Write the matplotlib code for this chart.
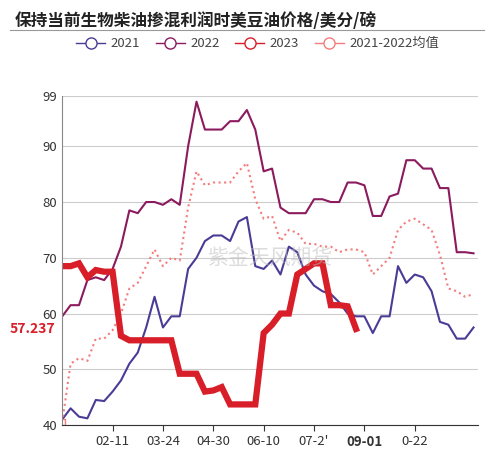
import matplotlib
matplotlib.use("Agg")
import matplotlib.pyplot as plt
from matplotlib.lines import Line2D

plt.rcParams['font.family'] = ['Noto Sans CJK SC', 'DejaVu Sans']

y2021 = [41,43,41.5,41.2,44.5,44.3,46,48,51,53,57.5,63,57.5,59.5,59.5,68,70,73,74,74,73,76.5,77.3,68.5,68,69.5,67,72,71,67,65,64,63.5,62,60,59.5,59.5,56.5,59.5,59.5,68.5,65.5,67,66.5,64,58.5,58,55.5,55.5,57.5]
y2022 = [59.5,61.5,61.5,66,66.5,66,68,72,78.5,78,80,80,79.5,80.5,79.5,90,98,93,93,93,94.5,94.5,96.5,93,85.5,86,79,78,78,78,80.5,80.5,80,80,83.5,83.5,83,77.5,77.5,81,81.5,87.5,87.5,86,86,82.5,82.5,71,71,70.8]
yavg = [40.5,51,52,51.5,55.5,55.5,57,60,64.5,65.5,68.5,71.5,68.5,70,69.5,79,85.5,83,83.5,83.5,83.5,85.5,87,80.5,77,77.5,73,75,74.5,72.5,72.5,72,72,71,71.5,71.5,71,67,68.5,70,75,76.5,77,76,75,70.5,64.5,64,63,63.5]
y2023 = [68.5,68.5,69,66.5,67.8,67.5,67.5,56,55.2,55.2,55.2,55.2,55.2,55.2,49.2,49.2,49.2,46,46.2,46.8,43.7,43.7,43.7,43.7,56.5,58,60,60,67,68,69,69,61.5,61.5,61.3,57.237]
tick_pos = [6,12,18,24,30,36,42]
tick_labels = ['02-11','03-24','04-30','06-10','07-2\'','09-01','0-22']
yticks = [40,50,60,70,80,90,99]

fig = plt.figure(figsize=(4.86,4.62), dpi=100)
ax = fig.add_axes([0.128, 0.08, 0.855, 0.712])
fig.text(0.03, 0.975, '保持当前生物柴油掺混利润时美豆油价格/美分/磅', fontsize=12, fontweight='bold', va='top', color='#222')
fig.add_artist(Line2D([0.02,0.995],[0.935,0.935], color='#999', lw=0.8))

c21, c22, c23, cav = '#4a3c96', '#8b1a5e', '#d81e28', '#f47c7c'
x = lambda s: list(range(len(s)))
ax.plot(x(y2021), y2021, color=c21, lw=1.5)
ax.plot(x(y2022), y2022, color=c22, lw=1.5)
ax.plot(x(yavg), yavg, color=cav, lw=1.5, ls=':')
ax.plot(x(y2023), y2023, color=c23, lw=4.5, solid_joinstyle='miter')
ax.plot([0],[yavg[0]], 's', mfc='white', mec=cav, ms=4)

ax.set_xlim(0, 49.5)
ax.set_ylim(40, 99)
ax.set_yticks(yticks)
ax.set_xticks(tick_pos)
ax.set_xticklabels(tick_labels)
for lab in ax.get_xticklabels():
    if lab.get_text() == '09-01':
        lab.set_color(c23); lab.set_fontweight('bold'); lab.set_fontsize(10.5)
ax.tick_params(axis='both', labelsize=9.5, colors='#333', length=4)
ax.tick_params(axis='y', length=0)
ax.grid(axis='y', color='#cccccc', lw=0.8)
for s in ['top','right']:
    ax.spines[s].set_visible(False)
ax.spines['left'].set_color('#888')
ax.spines['bottom'].set_color('#333')
ax.text(-0.8, y2023[-1], f'{y2023[-1]}', color=c23, fontweight='bold', fontsize=10, ha='right', va='center')
ax.text(0.5, 0.51, '紫金天风期货', transform=ax.transAxes, fontsize=15, color='#bbbbbb', alpha=0.5, ha='center', va='center')

handles = [Line2D([],[],color=c, marker='o', mfc='white', ms=8, lw=1.0, mew=1.0) for c in [c21,c22,c23,cav]]
leg = fig.legend(handles, ['2021','2022','2023','2021-2022均值'], loc='center', bbox_to_anchor=(0.53, 0.905), ncol=4, frameon=False, fontsize=9.5, handlelength=2.2, columnspacing=1.2, handletextpad=0.4)
for t in leg.get_texts():
    t.set_color('#444')
fig.savefig('out.png', dpi=100)
